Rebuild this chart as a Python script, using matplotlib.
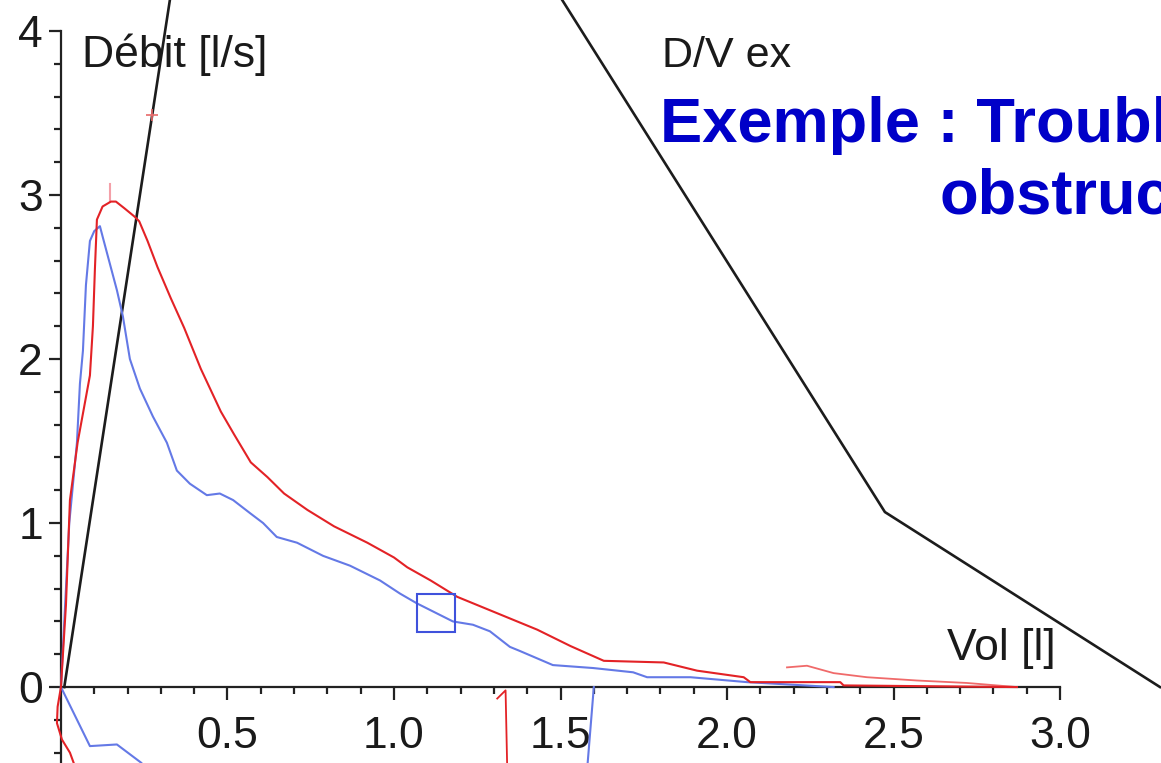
import matplotlib
matplotlib.use("Agg")
import matplotlib.pyplot as plt
from matplotlib.ticker import FixedLocator

# ---------------- data ----------------
# predicted (theoretical) expiratory flow-volume curve
pred_vol = [0.01, 0.558, 2.474, 3.30]
pred_flow = [0.0, 7.24, 1.067, 0.0]

# measured expiratory curve (red)
red_vol = [0.00, 0.015, 0.027, 0.05, 0.087, 0.096, 0.102, 0.108, 0.125, 0.15, 0.165,
           0.19, 0.22, 0.235, 0.26, 0.29, 0.33, 0.37, 0.42, 0.48, 0.52, 0.57, 0.62,
           0.67, 0.74, 0.82, 0.92, 1.00, 1.04, 1.11, 1.19, 1.31, 1.43, 1.53, 1.63,
           1.81, 1.91, 2.05, 2.07, 2.34, 2.35, 2.87]
red_flow = [0.00, 0.50, 1.14, 1.49, 1.90, 2.20, 2.55, 2.85, 2.93, 2.96, 2.96,
            2.92, 2.87, 2.84, 2.72, 2.56, 2.37, 2.19, 1.94, 1.68, 1.54, 1.37, 1.28,
            1.18, 1.08, 0.98, 0.88, 0.79, 0.73, 0.65, 0.55, 0.45, 0.35, 0.25, 0.16,
            0.15, 0.10, 0.06, 0.03, 0.03, 0.01, 0.00]

# second red trace (tail)
red2_vol = [2.18, 2.24, 2.32, 2.42, 2.57, 2.72, 2.87]
red2_flow = [0.12, 0.13, 0.085, 0.06, 0.04, 0.025, 0.0]

# measured expiratory curve (blue)
blue_vol = [0.0, 0.01, 0.025, 0.048, 0.057, 0.066, 0.075, 0.087, 0.100, 0.117, 0.126,
            0.147, 0.168, 0.186, 0.207, 0.237, 0.276, 0.318, 0.348, 0.387, 0.438,
            0.477, 0.517, 0.568, 0.607, 0.648, 0.709, 0.787, 0.868, 0.958, 1.018,
            1.069, 1.177, 1.237, 1.288, 1.348, 1.378, 1.477, 1.598, 1.718, 1.76,
            1.89, 2.06, 2.32]
blue_flow = [0.0, 0.40, 1.00, 1.49, 1.85, 2.05, 2.45, 2.72, 2.78, 2.81, 2.74,
             2.58, 2.42, 2.26, 2.00, 1.82, 1.65, 1.49, 1.32, 1.24, 1.17,
             1.18, 1.14, 1.06, 1.00, 0.915, 0.88, 0.80, 0.74, 0.65, 0.57,
             0.51, 0.40, 0.38, 0.34, 0.245, 0.22, 0.134, 0.116, 0.09, 0.06,
             0.06, 0.03, 0.0]

# inspiratory fragments (visible below the volume axis)
red_insp_vol = [0.0, -0.01, -0.012, 0.003, 0.027, 0.045]
red_insp_flow = [0.0, -0.12, -0.22, -0.32, -0.40, -0.50]
red_insp2_vol = [1.31, 1.335, 1.34]
red_insp2_flow = [-0.07, -0.02, -0.50]
blue_insp_vol = [0.0, 0.087, 0.168, 0.24, 0.27]
blue_insp_flow = [0.0, -0.36, -0.35, -0.46, -0.52]
blue_insp2_vol = [1.60, 1.58]
blue_insp2_flow = [0.0, -0.50]

# markers
square_vol, square_flow = 1.126, 0.45
pef_tick_vol = [0.147, 0.147]
pef_tick_flow = [2.96, 3.07]
pred_mark_vol, pred_mark_flow = 0.273, 3.49

xticks_major = [0.5, 1.0, 1.5, 2.0, 2.5, 3.0]
xtick_labels = ["0.5", "1.0", "1.5", "2.0", "2.5", "3.0"]
yticks_major = [0, 1, 2, 3, 4]
ytick_labels = ["0", "1", "2", "3", "4"]

# ---------------- figure ----------------
W, H = 1161, 763
plt.rcParams['font.family'] = ['Liberation Sans', 'DejaVu Sans']
fig = plt.figure(figsize=(W / 100, H / 100), dpi=100)
ax = fig.add_axes([0, 0, 1, 1])
ax.set_xlim(-0.183, 3.303)
ax.set_ylim(-0.463, 4.189)

RED = '#e32226'
BLUE = '#6479e6'
BLACK = '#1c1c1c'

ax.plot(pred_vol, pred_flow, color=BLACK, lw=1.9, zorder=3)
ax.plot(blue_vol, blue_flow, color=BLUE, lw=1.5, zorder=4)
ax.plot(red_vol, red_flow, color=RED, lw=1.5, zorder=5)
ax.plot(red2_vol, red2_flow, color='#f06a6a', lw=1.3, zorder=4)
ax.plot(red_insp_vol, red_insp_flow, color=RED, lw=1.5, zorder=5)
ax.plot(red_insp2_vol, red_insp2_flow, color=RED, lw=1.3, zorder=5)
ax.plot(blue_insp_vol, blue_insp_flow, color=BLUE, lw=1.5, zorder=4)
ax.plot(blue_insp2_vol, blue_insp2_flow, color=BLUE, lw=1.5, zorder=4)
ax.plot([square_vol], [square_flow], marker='s', ms=28, mfc='none',
        mec='#3f52dc', mew=1.5, zorder=6)
ax.plot(pef_tick_vol, pef_tick_flow, color='#f4a0a8', lw=1.5, zorder=4)
ax.plot([pred_mark_vol], [pred_mark_flow], marker='+', ms=8, color='#e86a6a',
        mew=1.2, zorder=6)

# spines
for s in ['top', 'right']:
    ax.spines[s].set_visible(False)
ax.spines['left'].set_position(('data', 0))
ax.spines['bottom'].set_position(('data', 0))
ax.spines['left'].set_bounds(-0.463, 4.0)
ax.spines['bottom'].set_bounds(0, 3.0)
for s in ['left', 'bottom']:
    ax.spines[s].set_linewidth(1.6)
    ax.spines[s].set_color('#222222')

ax.xaxis.set_major_locator(FixedLocator(xticks_major))
ax.set_xticklabels(xtick_labels)
ax.xaxis.set_minor_locator(FixedLocator([round(0.1 * i, 1) for i in range(1, 30) if i % 5 != 0]))
ax.yaxis.set_major_locator(FixedLocator(yticks_major))
ax.set_yticklabels(ytick_labels)
ax.yaxis.set_minor_locator(FixedLocator([round(0.2 * i, 1) for i in range(-2, 20) if i % 5 != 0]))

ax.tick_params(axis='both', which='major', direction='out', length=9, width=1.6,
               color='#222222', labelsize=32, labelcolor='#1a1a1a')
ax.tick_params(axis='both', which='minor', direction='out', length=5, width=1.6,
               color='#222222')
ax.tick_params(axis='x', which='major', pad=12)
ax.tick_params(axis='y', which='major', pad=4)


def px(x, y):
    return x / W, 1 - y / H


ax.text(*px(82, 67), "Débit [l/s]", transform=ax.transAxes, fontsize=32,
        color='#1a1a1a', va='baseline', ha='left')
ax.text(*px(662, 67), "D/V ex", transform=ax.transAxes, fontsize=31,
        color='#1a1a1a', va='baseline', ha='left')
ax.text(*px(947, 660), "Vol [l]", transform=ax.transAxes, fontsize=32,
        color='#1a1a1a', va='baseline', ha='left')
ax.text(*px(660, 142), "Exemple : Trouble ventilatoire", transform=ax.transAxes,
        fontsize=45.5, fontweight='bold', color='#0000c8', va='baseline', ha='left',
        clip_on=False)
ax.text(*px(940, 213), "obstructif", transform=ax.transAxes,
        fontsize=45.5, fontweight='bold', color='#0000c8', va='baseline', ha='left',
        clip_on=False)

fig.savefig("out.png", dpi=100)
